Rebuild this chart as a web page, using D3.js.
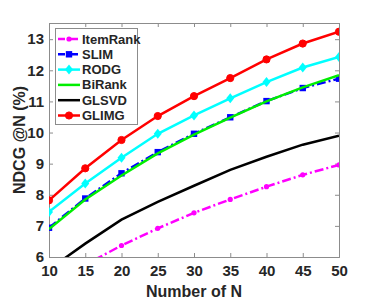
<!DOCTYPE html>
<html><head><meta charset="utf-8">
<script src="https://cdn.jsdelivr.net/npm/d3@7"></script>
<style>body{margin:0;background:#fff}svg{display:block}text{font-family:"Liberation Sans",Arial,sans-serif;font-weight:bold;fill:#262626}</style>
</head><body><svg id="c" width="374" height="302"></svg>
<script>
const Ns = [10,15,20,25,30,35,40,45,50];
const itemRank = [5.15,5.75,6.37,6.92,7.42,7.85,8.26,8.64,8.96];
const slim = [6.94,7.88,8.69,9.37,9.96,10.49,11.01,11.43,11.73];
const rodg = [7.45,8.36,9.19,9.96,10.55,11.1,11.62,12.09,12.43];
const biRank = [6.9,7.85,8.62,9.33,9.93,10.48,11.0,11.45,11.84];
const glsvd = [5.6,6.43,7.2,7.77,8.29,8.8,9.22,9.61,9.9];
const glimg = [7.82,8.85,9.76,10.53,11.17,11.75,12.35,12.86,13.24];
const xTicks = [10,15,20,25,30,35,40,45,50];
const yTicks = [6,7,8,9,10,11,12,13];

const series = [
  {name:"ItemRank", vals:itemRank, color:"#ff00ff", dash:"9,3,2,3", marker:"dot"},
  {name:"SLIM", vals:slim, color:"#0000ff", dash:"9,3,2,3", marker:"square"},
  {name:"RODG", vals:rodg, color:"#00ffff", dash:null, marker:"diamond"},
  {name:"BiRank", vals:biRank, color:"#00ee00", dash:null, marker:null},
  {name:"GLSVD", vals:glsvd, color:"#000000", dash:null, marker:null},
  {name:"GLIMG", vals:glimg, color:"#ff0000", dash:null, marker:"circle"}
];
const drawOrder = [4,0,1,3,2,5];

const L=49,R=339,T=23,B=257;
const x = d3.scaleLinear().domain([10,50]).range([L,R]);
const y = d3.scaleLinear().domain([6,13.52]).range([B,T]);
const svg = d3.select("#c");

svg.append("defs").append("clipPath").attr("id","clip")
  .append("rect").attr("x",L).attr("y",T).attr("width",R-L).attr("height",B-T);

const axCol="#8c8c8c";
// axes
const gx = svg.append("g").attr("transform",`translate(0,${B})`)
  .call(d3.axisBottom(x).tickValues(xTicks).tickSize(-4).tickPadding(8).tickFormat(d3.format("d")));
const gxt = svg.append("g").attr("transform",`translate(0,${T})`)
  .call(d3.axisTop(x).tickValues(xTicks).tickSize(-4).tickFormat(""));
const gy = svg.append("g").attr("transform",`translate(${L},0)`)
  .call(d3.axisLeft(y).tickValues(yTicks).tickSize(-4).tickPadding(5).tickFormat(d3.format("d")));
const gyr = svg.append("g").attr("transform",`translate(${R},0)`)
  .call(d3.axisRight(y).tickValues(yTicks).tickSize(-4).tickFormat(""));
[gx,gxt,gy,gyr].forEach(g=>{
  g.select(".domain").attr("stroke",axCol).attr("stroke-width",1);
  g.selectAll(".tick line").attr("stroke",axCol);
  g.selectAll("text").style("font-size","15px").attr("fill","#262626");
});

// lines
const line = d3.line().x((d,i)=>x(Ns[i])).y(d=>y(d));
const plot = svg.append("g").attr("clip-path","url(#clip)");
function marker(g, type, cx, cy, color){
  if(type==="dot") g.append("circle").attr("cx",cx).attr("cy",cy).attr("r",2.6).attr("fill",color);
  else if(type==="square") g.append("rect").attr("x",cx-3.2).attr("y",cy-3.2).attr("width",6.4).attr("height",6.4).attr("fill",color);
  else if(type==="diamond") g.append("path").attr("d",`M${cx},${cy-5}L${cx+4},${cy}L${cx},${cy+5}L${cx-4},${cy}Z`).attr("fill",color);
  else if(type==="circle") g.append("circle").attr("cx",cx).attr("cy",cy).attr("r",3.6).attr("fill",color).attr("stroke",color).attr("stroke-width",1);
}
drawOrder.forEach(k=>{
  const s=series[k];
  plot.append("path").datum(s.vals).attr("d",line).attr("fill","none")
    .attr("stroke",s.color).attr("stroke-width",2.5).attr("stroke-dasharray",s.dash);
  if(s.marker) s.vals.forEach((v,i)=>{ if(v>=6) marker(plot,s.marker,x(Ns[i]),y(v),s.color); });
});

// legend
const lg = svg.append("g");
lg.append("rect").attr("x",55.5).attr("y",28.5).attr("width",82).attr("height",96)
  .attr("fill","#fff").attr("stroke","#8c8c8c").attr("stroke-width",1);
series.forEach((s,i)=>{
  const ly = 39 + i*15.3;
  lg.append("line").attr("x1",58).attr("x2",80).attr("y1",ly).attr("y2",ly)
    .attr("stroke",s.color).attr("stroke-width",2.5).attr("stroke-dasharray",s.dash?"7,2,2,2":null);
  if(s.marker) marker(lg,s.marker,69,ly,s.color);
  lg.append("text").attr("x",82).attr("y",ly+4.5).style("font-size","13px").text(s.name);
});

// axis titles
svg.append("text").attr("x",(L+R)/2).attr("y",297).attr("text-anchor","middle")
  .style("font-size","16px").text("Number of N");
svg.append("text").attr("transform",`translate(25,${(T+B)/2}) rotate(-90)`).attr("text-anchor","middle")
  .style("font-size","16px").text("NDCG @N (%)");
</script></body></html>
